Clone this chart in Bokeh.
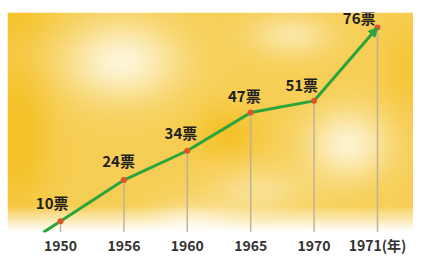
import numpy as np
from bokeh.plotting import figure
from bokeh.models import (ColumnDataSource, Range1d, FixedTicker, Arrow, NormalHead)
from bokeh.core.properties import value
from bokeh.embed import file_html
from bokeh.resources import INLINE

# ---- data ----
years = ["1950", "1956", "1960", "1965", "1970", "1971(年)"]
votes = [10, 24, 34, 47, 51, 76]
labels = ["10票", "24票", "34票", "47票", "51票", "76票"]

xs = list(range(len(years)))

# label placement (style, pixels)
label_dx = [8, 11, 10, 10, 4, -2]
label_dy = [-8, -9, -8, -7, -6, 1]

GREEN = "#2ba43c"
DOT = "#e0532a"
FONT = "Noto Sans CJK SC"

x0, x1 = -0.836, 5.568
y0, y1 = 6.15, 81.1

p = figure(frame_width=406, frame_height=220, output_backend="svg", toolbar_location=None,
           x_range=Range1d(x0, x1), y_range=Range1d(y0, y1),
           min_border_left=7, min_border_right=0, min_border_top=12,
           min_border_bottom=0)
p.border_fill_color = "white"
p.outline_line_color = None
p.grid.visible = False
p.yaxis.visible = False

# ---- cloudy yellow background (decorative gradient) ----
W, H = 160, 100
u = np.linspace(0, 1, W)[None, :]
w = np.linspace(0, 1, H)[:, None]  # 0 top, 1 bottom
def blob(cu, cw, su, sw, a):
    return a * np.exp(-(((u - cu) / su) ** 2 + ((w - cw) / sw) ** 2))
pale = 0.25 + blob(0.28, 0.22, 0.14, 0.18, 0.75) + blob(0.84, 0.60, 0.10, 0.16, 0.7) \
    + blob(0.70, 0.10, 0.10, 0.10, 0.45) + blob(0.45, 0.97, 0.10, 0.10, 0.5) \
    + blob(0.62, 0.82, 0.12, 0.12, 0.35) - blob(0.02, 0.55, 0.08, 0.35, 0.3) \
    - blob(0.54, 0.55, 0.08, 0.12, 0.25) - blob(0.98, 0.25, 0.05, 0.2, 0.15) \
    - blob(0.0, 0.0, 0.12, 0.12, 0.2)
pale = np.clip(pale, 0, 1)
gold = np.array([245, 194, 42], float)
light = np.array([253, 245, 214], float)
rgb = gold[None, None, :] * (1 - pale[..., None]) + light[None, None, :] * pale[..., None]
fade = np.clip((w - 0.88) / 0.12, 0, 1)[..., None]
fade = np.broadcast_to(fade, rgb.shape)
rgb = rgb * (1 - fade) + 255 * fade
img = np.zeros((H, W), dtype=np.uint32)
view = img.view(dtype=np.uint8).reshape((H, W, 4))
view[..., 0] = rgb[..., 0]
view[..., 1] = rgb[..., 1]
view[..., 2] = rgb[..., 2]
view[..., 3] = 255
img = img[::-1]
p.image_rgba(image=[img], x=x0, y=y0, dw=x1 - x0, dh=y1 - y0)

# ---- vertical drop lines ----
p.segment(x0=xs, y0=votes, x1=xs, y1=[y0] * len(xs), line_color="#b8ae98",
          line_width=1.5, line_alpha=0.9)

# ---- green line (with a short lead-in extrapolated from the first segment) ----
lead = 0.27
line_x = [xs[0] - lead] + xs
line_y = [votes[0] - lead * (votes[1] - votes[0])] + votes
p.line(line_x, line_y, line_color=GREEN, line_width=3)
p.add_layout(Arrow(end=NormalHead(size=9, fill_color=GREEN, line_color=GREEN),
                   x_start=xs[-2], y_start=votes[-2], x_end=xs[-1], y_end=votes[-1],
                   line_alpha=0))

src = ColumnDataSource(dict(x=xs, y=votes, t=labels, dx=label_dx, dy=label_dy))
p.scatter("x", "y", source=src, size=6, fill_color=DOT, line_color=None)
p.text("x", "y", text="t", source=src, x_offset="dx", y_offset="dy",
       text_align="right", text_baseline="bottom", text_font=value(FONT),
       text_font_size="15px", text_font_style="bold", text_color="#1e1e1e")

# ---- x axis: labels only ----
ax = p.xaxis[0]
ax.ticker = FixedTicker(ticks=xs)
ax.major_label_overrides = {i: years[i] for i in xs}
ax.axis_line_color = None
ax.major_tick_line_color = None
ax.minor_tick_line_color = None
ax.major_tick_out = 0
ax.major_tick_in = 0
ax.major_label_standoff = 2
ax.major_label_text_font = FONT
ax.major_label_text_font_size = "14px"
ax.major_label_text_font_style = "bold"
ax.major_label_text_color = "#333333"

open("out.html", "w").write(file_html(p, INLINE))
